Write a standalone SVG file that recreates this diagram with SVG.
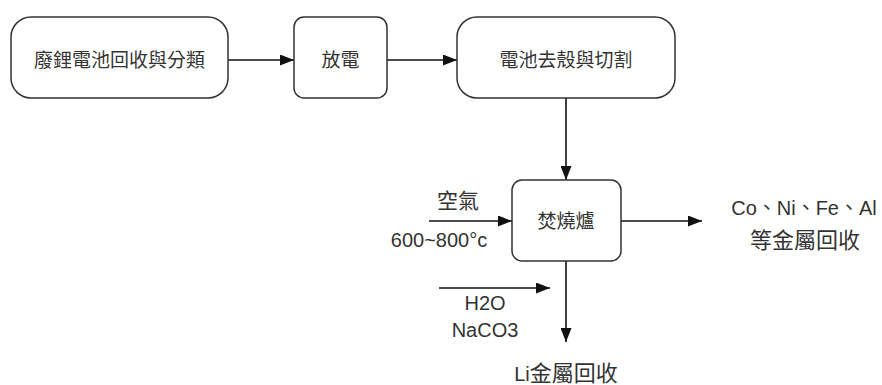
<svg xmlns="http://www.w3.org/2000/svg" width="882" height="385" viewBox="0 0 882 385">
<style>
.box{fill:#fff;stroke:#333;stroke-width:1.5}
.line{stroke:#111;stroke-width:1.6;fill:none}
.t{font-family:"Liberation Sans","Noto Sans CJK TC",sans-serif;fill:#333;text-anchor:middle}
.in{font-size:19px}
.out{font-size:20px}
.cjk{font-size:22px}
</style>
<defs>
<marker id="ah" viewBox="0 0 14 11" refX="14" refY="5.5" markerWidth="14" markerHeight="11" markerUnits="userSpaceOnUse" orient="auto">
<path d="M0,0 L14,5.5 L0,11 Z" fill="#111"/>
</marker>
</defs>
<rect width="882" height="385" fill="#fff"/>
<g id="connectors">
<line class="line" x1="228" y1="60" x2="294" y2="60" marker-end="url(#ah)"/>
<line class="line" x1="387" y1="60" x2="457" y2="60" marker-end="url(#ah)"/>
<line class="line" x1="566" y1="98" x2="566" y2="180" marker-end="url(#ah)"/>
<line class="line" x1="429" y1="221" x2="512" y2="221" marker-end="url(#ah)"/>
<line class="line" x1="621" y1="221" x2="702" y2="221" marker-end="url(#ah)"/>
<line class="line" x1="566" y1="261" x2="566" y2="342" marker-end="url(#ah)"/>
<line class="line" x1="439" y1="288" x2="550" y2="288" marker-end="url(#ah)"/>
</g>
<g id="n1">
<rect class="box" x="11" y="17" width="217" height="81" rx="20"/>
<text class="t in" x="119.5" y="67">廢鋰電池回收與分類</text>
</g>
<g id="n2">
<rect class="box" x="294" y="17" width="93" height="81" rx="10"/>
<text class="t in" x="340.5" y="67">放電</text>
</g>
<g id="n3">
<rect class="box" x="457" y="17" width="218" height="81" rx="20"/>
<text class="t in" x="566" y="67">電池去殼與切割</text>
</g>
<g id="n4">
<rect class="box" x="512" y="180" width="109" height="81" rx="10"/>
<text class="t in" x="566" y="228">焚燒爐</text>
</g>
<g id="labels">
<text class="t cjk" x="458" y="208" style="font-size:21px">空氣</text>
<text class="t out" x="439" y="247">600~800°c</text>
<text class="t out" x="804" y="215">Co、Ni、Fe、Al</text>
<text class="t cjk" x="805" y="248">等金屬回收</text>
<text class="t out" x="485" y="310">H2O</text>
<text class="t out" x="485" y="337">NaCO3</text>
<text class="t out" x="566" y="381"><tspan>Li</tspan><tspan style="font-size:22px">金屬回收</tspan></text>
</g>
</svg>
